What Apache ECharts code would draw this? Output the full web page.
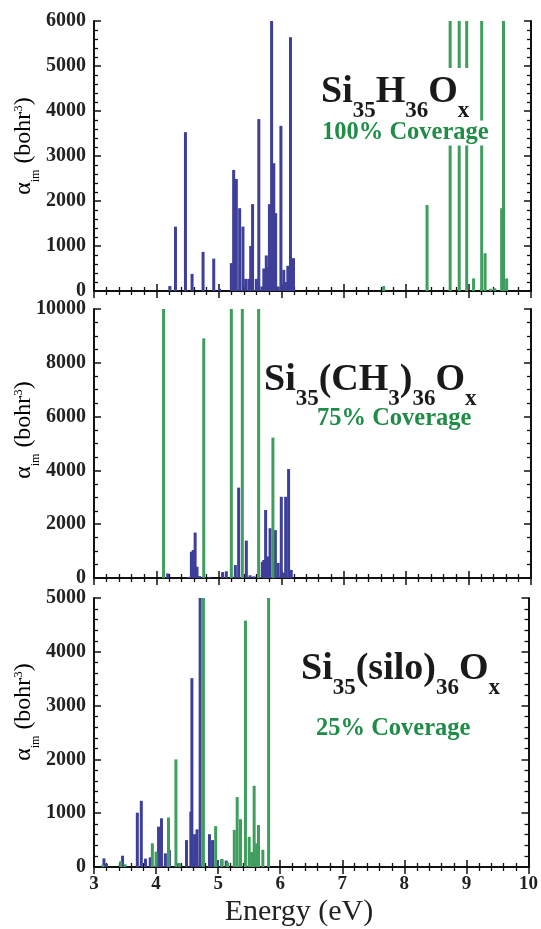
<!DOCTYPE html>
<html><head><meta charset="utf-8">
<script src="https://cdn.jsdelivr.net/npm/echarts@6/dist/echarts.min.js"></script>
<style>html,body{margin:0;padding:0;background:#fff}#c{width:541px;height:929px}</style>
</head><body><div id="c"></div>
<script>
// ---- data (energy in eV, alpha_im in bohr^3) ----
var xTicks = [3,4,5,6,7,8,9,10];
// Panel 1: Si35H36Ox, 100% coverage
var p1BlueE = [4.215,4.305,4.465,4.571,4.747,4.918,5.01,5.20,5.237,5.28,5.333,5.386,5.43,5.48,5.51,5.54,5.60,5.64,5.69,5.72,5.76,5.79,5.81,5.845,5.88,5.91,5.95,5.994,6.04,6.07,6.105,6.148,6.196];
var p1BlueV = [110,1430,3530,380,870,720,50,620,2690,2490,1840,1430,270,270,1000,1930,270,3820,100,500,790,530,1930,6000,2840,1730,100,3670,470,200,560,5640,730];
var p1GreenE = [7.64,8.335,8.705,8.85,8.97,9.08,9.21,9.265,9.35,9.42,9.53,9.56,9.61];
var p1GreenV = [110,1910,12000,12000,12000,280,12000,840,50,60,1840,12000,280];
// Panel 2: Si35(CH3)36Ox, 75% coverage
var p2BlueE = [4.18,4.51,4.56,4.59,4.62,4.65,4.69,4.85,5.06,5.12,5.264,5.317,5.44,5.50,5.56,5.696,5.72,5.749,5.79,5.82,5.905,5.95,6.00,6.05,6.07,6.117,6.16];
var p2BlueV = [170,40,980,1040,1690,420,70,40,220,250,480,3360,1390,100,60,600,670,2530,800,1850,1780,560,3020,200,3020,4050,300];
var p2GreenE = [4.114,4.758,5.20,5.376,5.637,5.866];
var p2GreenV = [20000,8910,20000,20000,20000,5220];
// Panel 3: Si35(silo)36Ox, 25% coverage
var p3BlueE = [3.16,3.20,3.46,3.698,3.762,3.83,3.906,4.04,4.087,4.15,4.215,4.35,4.49,4.56,4.577,4.62,4.66,4.71,4.86,4.91,4.99,5.06,5.13];
var p3BlueV = [160,60,210,1010,1230,155,180,750,905,254,316,70,500,1030,3510,610,700,6000,610,500,100,140,120];
var p3GreenE = [3.14,3.43,3.50,3.94,4.00,4.20,4.32,4.38,4.763,4.96,5.06,5.15,5.26,5.307,5.36,5.44,5.50,5.54,5.58,5.62,5.65,5.72,5.813];
var p3GreenV = [40,110,50,440,285,920,2000,70,12000,760,150,90,690,1300,890,4580,560,280,1510,440,780,320,12000];
var yMax = [6000,10000,5000];
var yInterval = [1000,2000,1000];
var yMinorSplit = [5,4,5];

var BLUE = '#3d3f98', GREEN = '#3f9e5e', TGREEN = '#1f8c47';
var SERIF = '"Liberation Serif","Times New Roman",serif';
var grids = [
  {left:94, top:21, width:437, height:270},
  {left:94, top:309, width:437, height:269},
  {left:94, top:598, width:437, height:269}
];
function zip(a,b){return a.map(function(v,i){return [v,b[i]];});}
var xAxes=[], yAxes=[], series=[];
var axLine = {show:true, lineStyle:{color:'#111', width:2}};
for (var g=0; g<3; g++){
  var common = {type:'value', gridIndex:g, min:3, max:10, interval:1,
    axisLine:axLine, splitLine:{show:false},
    axisTick:{show:true, inside:true, length:7, lineStyle:{color:'#111',width:1.5}},
    minorTick:{show:true, splitNumber:5, length:4, lineStyle:{color:'#111',width:1.3}}};
  xAxes.push(Object.assign({}, common, {position:'bottom',
    axisLabel:{show:g===2, color:'#222', fontFamily:SERIF, fontWeight:'bold', fontSize:19, margin:8}}));
  xAxes.push(Object.assign({}, common, {position:'top', axisLabel:{show:false}}));
  var yc = {type:'value', gridIndex:g, min:0, max:yMax[g], interval:yInterval[g],
    axisLine:axLine, splitLine:{show:false},
    axisTick:{show:true, inside:true, length:7, lineStyle:{color:'#111',width:1.5}},
    minorTick:{show:true, splitNumber:yMinorSplit[g], length:4, lineStyle:{color:'#111',width:1.3}}};
  yAxes.push(Object.assign({}, yc, {position:'left',
    axisLabel:{show:true, color:'#222', fontFamily:SERIF, fontWeight:'bold', fontSize:20, margin:8,
      formatter:function(v){return String(v);}}}));
  yAxes.push(Object.assign({}, yc, {position:'right', axisLabel:{show:false}}));
}
var sets = [[p1BlueE,p1BlueV,p1GreenE,p1GreenV],[p2BlueE,p2BlueV,p2GreenE,p2GreenV],[p3BlueE,p3BlueV,p3GreenE,p3GreenV]];
for (var g=0; g<3; g++){
  var s = sets[g];
  series.push({type:'bar', xAxisIndex:2*g, yAxisIndex:2*g, data:zip(s[0],s[1]), barWidth:3, barGap:'-100%',
    itemStyle:{color:BLUE}, z:2, animation:false, clip:true});
  series.push({type:'bar', xAxisIndex:2*g, yAxisIndex:2*g, data:zip(s[2],s[3]), barWidth:3, barGap:'-100%',
    itemStyle:{color:GREEN}, z:3, animation:false, clip:true});
}
var richF = {
  m:{fontFamily:SERIF, fontWeight:'bold', fontSize:38, lineHeight:38, color:'#1a1a1a', verticalAlign:'top'},
  s:{fontFamily:SERIF, fontWeight:'bold', fontSize:23, lineHeight:23, color:'#1a1a1a', verticalAlign:'top', padding:[27,0,0,0]}
};
var richC = {c:{fontFamily:SERIF, fontWeight:'bold', fontSize:24.5, lineHeight:32, color:TGREEN}};
function ttl(text, left, top, rich, pad){
  return {text:text, left:left, top:top, padding:pad, itemGap:0, backgroundColor:'#fff',
    textStyle:{rich:rich}};
}
var titles = [
  ttl('{m|Si}{s|35}{m|H}{s|36}{m|O}{s|x}', 321, 68, richF, [5,0,0,0]),
  ttl('{c|100% Coverage}', 322, 117, richC, 0),
  ttl('{m|Si}{s|35}{m|(CH}{s|3}{m|)}{s|36}{m|O}{s|x}', 264, 356, richF, [5,0,0,0]),
  ttl('{c|75% Coverage}', 317, 403, richC, 0),
  ttl('{m|Si}{s|35}{m|(silo)}{s|36}{m|O}{s|x}', 301, 645, richF, [5,0,0,0]),
  ttl('{c|25% Coverage}', 316, 713, richC, 0)
];
var yName = '{a|α}{b|im}{a| (bohr}{c|3}{a|)}';
var richY = {
  a:{fontFamily:SERIF, fontSize:24, color:'#222', lineHeight:28, verticalAlign:'top'},
  b:{fontFamily:SERIF, fontSize:12, color:'#222', lineHeight:12, verticalAlign:'top', padding:[18,0,0,0]},
  c:{fontFamily:SERIF, fontSize:13, color:'#222', lineHeight:13, verticalAlign:'top', padding:[0,0,0,0]}
};
var centers = [146, 430, 712];
var graphics = centers.map(function(cy){
  return {type:'text', x:26, y:cy, rotation:Math.PI/2,
    style:{text:yName, rich:richY, align:'center', verticalAlign:'middle'}};
});
graphics.push({type:'text', x:299, y:912, style:{text:'Energy (eV)', font:'30px '+SERIF, fill:'#222', align:'center', verticalAlign:'middle'}});

var chart = echarts.init(document.getElementById('c'), null, {renderer:'canvas'});
chart.setOption({
  animation:false,
  backgroundColor:'#fff',
  title:titles,
  grid:grids,
  xAxis:xAxes,
  yAxis:yAxes,
  series:series,
  graphic:graphics
});
</script></body></html>
